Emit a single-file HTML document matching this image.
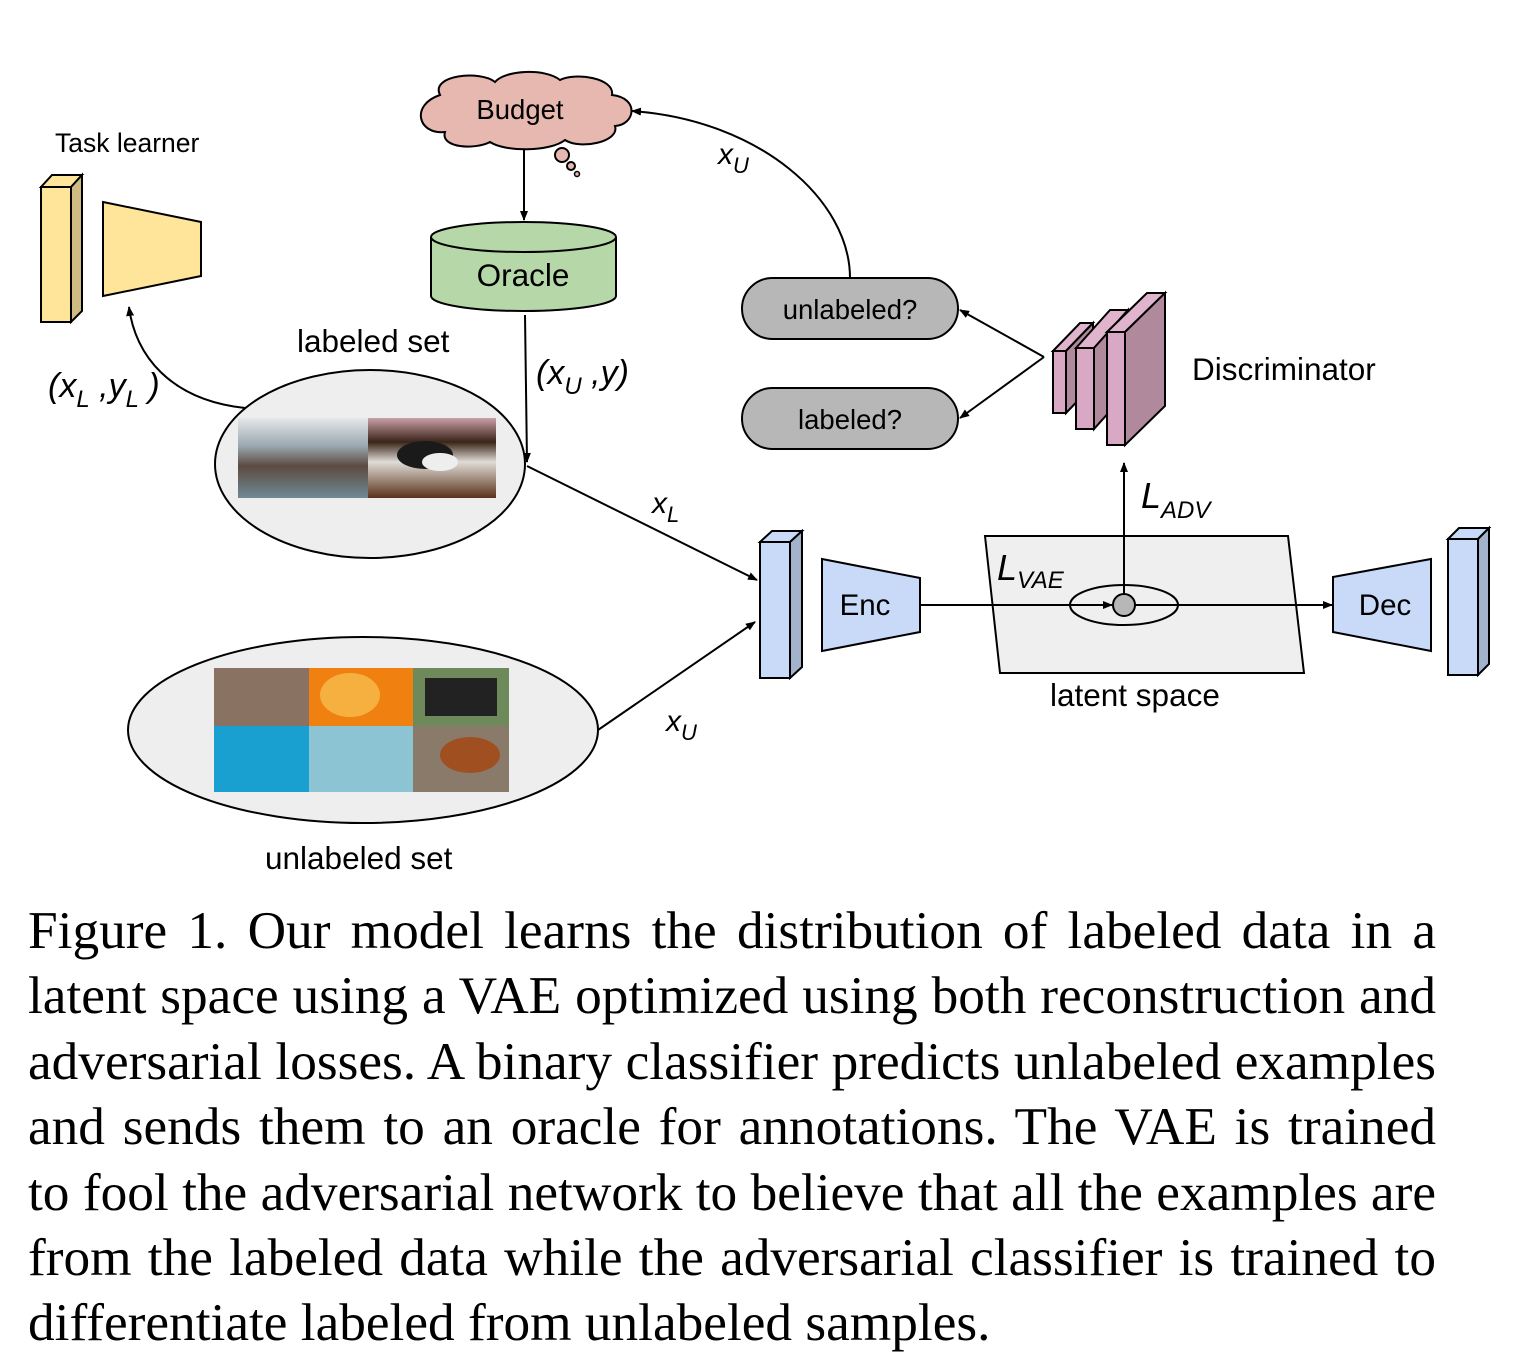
<!DOCTYPE html>
<html><head><meta charset="utf-8"><style>
html,body{margin:0;padding:0;background:#fff;}
body{width:1525px;height:1353px;position:relative;overflow:hidden;}
svg{position:absolute;left:0;top:0;}
.cap{position:absolute;left:28px;width:1408px;font-family:"Liberation Serif",serif;font-size:53.3px;color:#000;}
.cap div{height:65.4px;line-height:65.4px;text-align:justify;text-align-last:justify;white-space:nowrap;}
.cap div.last{text-align-last:left;}
</style></head><body>
<svg width="1525" height="880" viewBox="0 0 1525 880" font-family="Liberation Sans, Arial, sans-serif">
<defs>
<marker id="ah" markerWidth="10" markerHeight="8" refX="9" refY="4" orient="auto" markerUnits="userSpaceOnUse"><path d="M0,0 L10,4 L0,8 z" fill="#000"/></marker>
</defs>
<!-- Task learner -->
<text x="55" y="152" font-size="26.5">Task learner</text>
<polygon points="41,187 52,175 82,175 71,187" fill="#ffe599" stroke="#000" stroke-width="2"/>
<polygon points="71,187 82,175 82,311 71,322" fill="#d0bb80" stroke="#000" stroke-width="2"/>
<rect x="41" y="187" width="30" height="135" fill="#ffe599" stroke="#000" stroke-width="2"/>
<polygon points="103,202 201,222 201,276 103,296" fill="#ffe599" stroke="#000" stroke-width="2"/>
<path d="M245,408 C170,400 135,355 129,307" fill="none" stroke="#000" stroke-width="2" marker-end="url(#ah)"/>
<text x="48" y="397" font-size="34" font-style="italic">(x<tspan font-size="24" dy="10">L</tspan><tspan dy="-10"> ,y</tspan><tspan font-size="24" dy="10">L</tspan><tspan dy="-10"> )</tspan></text>
<!-- Budget cloud -->
<path d="M440,95 C430,75 480,70 495,82 C505,70 545,68 560,80 C575,72 615,78 612,95 C640,98 635,125 615,126 C620,142 580,150 565,140 C550,152 505,152 490,142 C475,150 440,148 445,132 C418,135 410,105 440,95 Z" fill="#e6b8b0" stroke="#000" stroke-width="2"/>
<text x="520" y="119" font-size="27.5" text-anchor="middle">Budget</text>
<circle cx="562" cy="155" r="7" fill="#e6b8b0" stroke="#000" stroke-width="2"/>
<circle cx="571" cy="166" r="4" fill="#e6b8b0" stroke="#000" stroke-width="2"/>
<circle cx="577" cy="174" r="2.5" fill="#e6b8b0" stroke="#000" stroke-width="1.5"/>
<line x1="524" y1="149" x2="524" y2="220" stroke="#000" stroke-width="2" marker-end="url(#ah)"/>
<!-- Oracle -->
<path d="M431,237 L431,296 A92.5,15 0 0 0 616,296 L616,237" fill="#b6d7a8" stroke="#000" stroke-width="2"/>
<ellipse cx="523.5" cy="237" rx="92.5" ry="15" fill="#b6d7a8" stroke="#000" stroke-width="2"/>
<text x="523" y="286" font-size="31.5" text-anchor="middle">Oracle</text>
<line x1="525" y1="315" x2="527" y2="462" stroke="#000" stroke-width="2" marker-end="url(#ah)"/>
<text x="536" y="384" font-size="34" font-style="italic">(x<tspan font-size="24" dy="10">U</tspan><tspan dy="-10"> ,y)</tspan></text>
<!-- labeled set -->
<text x="297" y="352" font-size="31.5">labeled set</text>
<ellipse cx="370" cy="464" rx="155" ry="94" fill="#eeeeee" stroke="#000" stroke-width="2"/>
<defs>
<linearGradient id="sea" x1="0" y1="0" x2="0" y2="1"><stop offset="0" stop-color="#e4e8ea"/><stop offset="0.35" stop-color="#9aa8b0"/><stop offset="0.6" stop-color="#5c4a40"/><stop offset="1" stop-color="#6f8a95"/></linearGradient>
<linearGradient id="dog" x1="0" y1="0" x2="0" y2="1"><stop offset="0" stop-color="#c9a0a8"/><stop offset="0.3" stop-color="#3a2418"/><stop offset="0.55" stop-color="#e0dcd8"/><stop offset="1" stop-color="#5a3218"/></linearGradient>
</defs>
<rect x="238" y="418" width="130" height="80" fill="url(#sea)"/>
<rect x="368" y="418" width="128" height="80" fill="url(#dog)"/>
<ellipse cx="425" cy="455" rx="28" ry="14" fill="#1a1a1a"/>
<ellipse cx="440" cy="462" rx="18" ry="9" fill="#eee"/>
<!-- arrows to encoder -->
<line x1="527" y1="466" x2="757" y2="580" stroke="#000" stroke-width="2" marker-end="url(#ah)"/>
<text x="652" y="513" font-size="30" font-style="italic">x<tspan font-size="22" dy="9">L</tspan></text>
<line x1="598" y1="730" x2="755" y2="622" stroke="#000" stroke-width="2" marker-end="url(#ah)"/>
<text x="666" y="731" font-size="30" font-style="italic">x<tspan font-size="22" dy="9">U</tspan></text>
<!-- unlabeled set -->
<ellipse cx="363" cy="730" rx="235" ry="93" fill="#eeeeee" stroke="#000" stroke-width="2"/>
<rect x="214" y="668" width="95" height="58" fill="#8a7262"/>
<rect x="309" y="668" width="104" height="58" fill="#f08010"/>
<ellipse cx="350" cy="695" rx="30" ry="22" fill="#f5b040"/>
<rect x="413" y="668" width="96" height="58" fill="#6f8a5a"/>
<rect x="425" y="678" width="72" height="38" fill="#222"/>
<rect x="214" y="726" width="95" height="66" fill="#1aa0d0"/>
<rect x="309" y="726" width="104" height="66" fill="#8cc4d4"/>
<rect x="413" y="726" width="96" height="66" fill="#8a7a6a"/>
<ellipse cx="470" cy="755" rx="30" ry="18" fill="#a05020"/>
<text x="265" y="869" font-size="31.5">unlabeled set</text>
<!-- encoder input box -->
<polygon points="760,542 772,531 802,531 790,542" fill="#c9daf8" stroke="#000" stroke-width="2"/>
<polygon points="790,542 802,531 802,667 790,678" fill="#a4b3cc" stroke="#000" stroke-width="2"/>
<rect x="760" y="542" width="30" height="136" fill="#c9daf8" stroke="#000" stroke-width="2"/>
<polygon points="822,559 920,578 920,632 822,651" fill="#c9daf8" stroke="#000" stroke-width="2"/>
<text x="865" y="615" font-size="29.5" text-anchor="middle">Enc</text>
<!-- latent space -->
<polygon points="985,536 1288,536 1304,673 1000,673" fill="#efefef" stroke="#000" stroke-width="2"/>
<line x1="920" y1="605" x2="1112" y2="605" stroke="#000" stroke-width="2" marker-end="url(#ah)"/>
<ellipse cx="1124" cy="605" rx="54" ry="20" fill="none" stroke="#000" stroke-width="2"/>
<line x1="1135" y1="605" x2="1332" y2="605" stroke="#000" stroke-width="2" marker-end="url(#ah)"/>
<circle cx="1124" cy="605" r="11" fill="#b7b7b7" stroke="#000" stroke-width="2"/>
<line x1="1124" y1="594" x2="1124" y2="463" stroke="#000" stroke-width="2" marker-end="url(#ah)"/>
<text x="997" y="580" font-size="36" font-style="italic">L<tspan font-size="24" dy="8">VAE</tspan></text>
<text x="1141" y="508" font-size="36" font-style="italic">L<tspan font-size="24" dy="10">ADV</tspan></text>
<text x="1050" y="706" font-size="31.5">latent space</text>
<!-- decoder -->
<polygon points="1333,577 1431,559 1431,651 1333,632" fill="#c9daf8" stroke="#000" stroke-width="2"/>
<text x="1385" y="615" font-size="29.5" text-anchor="middle">Dec</text>
<polygon points="1448,539 1459,528 1489,528 1478,539" fill="#c9daf8" stroke="#000" stroke-width="2"/>
<polygon points="1478,539 1489,528 1489,664 1478,675" fill="#a4b3cc" stroke="#000" stroke-width="2"/>
<rect x="1448" y="539" width="30" height="136" fill="#c9daf8" stroke="#000" stroke-width="2"/>
<!-- discriminator -->
<polygon points="1053,351 1080,323 1093,323 1066,351" fill="#e0b4cc" stroke="#000" stroke-width="2"/>
<polygon points="1066,351 1093,323 1093,385 1066,413" fill="#b08a9c" stroke="#000" stroke-width="2"/>
<rect x="1053" y="351" width="13" height="62" fill="#d8a8c4" stroke="#000" stroke-width="2"/>
<polygon points="1076,348 1110,310 1128,310 1094,348" fill="#e0b4cc" stroke="#000" stroke-width="2"/>
<polygon points="1094,348 1128,310 1128,391 1094,429" fill="#b08a9c" stroke="#000" stroke-width="2"/>
<rect x="1076" y="348" width="18" height="81" fill="#d8a8c4" stroke="#000" stroke-width="2"/>
<polygon points="1107,332 1147,293 1165,293 1125,332" fill="#e0b4cc" stroke="#000" stroke-width="2"/>
<polygon points="1125,332 1165,293 1165,406 1125,445" fill="#b08a9c" stroke="#000" stroke-width="2"/>
<rect x="1107" y="332" width="18" height="113" fill="#d8a8c4" stroke="#000" stroke-width="2"/>
<text x="1192" y="380" font-size="31.5">Discriminator</text>
<line x1="1044" y1="357" x2="960" y2="310" stroke="#000" stroke-width="2" marker-end="url(#ah)"/>
<line x1="1044" y1="357" x2="960" y2="418" stroke="#000" stroke-width="2" marker-end="url(#ah)"/>
<!-- pills -->
<rect x="742" y="278" width="216" height="61" rx="30.5" fill="#b7b7b7" stroke="#000" stroke-width="2"/>
<text x="850" y="319" font-size="27.5" text-anchor="middle">unlabeled?</text>
<rect x="742" y="388" width="216" height="61" rx="30.5" fill="#b7b7b7" stroke="#000" stroke-width="2"/>
<text x="850" y="429" font-size="27.5" text-anchor="middle">labeled?</text>
<path d="M850,278 C850,200 760,120 632,111" fill="none" stroke="#000" stroke-width="2" marker-end="url(#ah)"/>
<text x="718" y="164" font-size="30" font-style="italic">x<tspan font-size="22" dy="9">U</tspan></text>
</svg>
<div class="cap" style="top:898px">
<div>Figure 1. Our model learns the distribution of labeled data in a</div>
<div>latent space using a VAE optimized using both reconstruction and</div>
<div>adversarial losses. A binary classifier predicts unlabeled examples</div>
<div>and sends them to an oracle for annotations. The VAE is trained</div>
<div>to fool the adversarial network to believe that all the examples are</div>
<div>from the labeled data while the adversarial classifier is trained to</div>
<div class="last">differentiate labeled from unlabeled samples.</div>
</div>
</body></html>
